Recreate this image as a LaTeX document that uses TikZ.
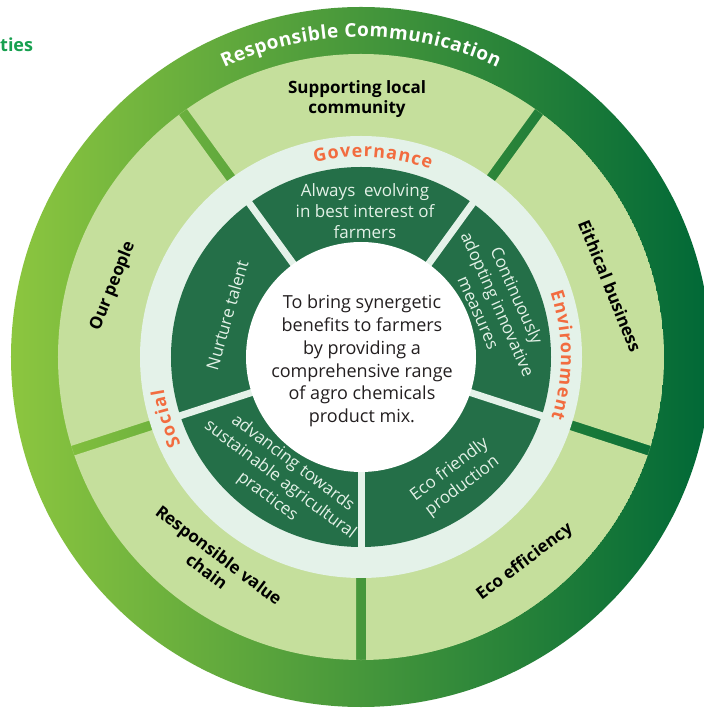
\documentclass[tikz,border=0pt]{standalone}
\usepackage{fontspec}
\setmainfont{Open Sans}
\usetikzlibrary{calc}
\definecolor{ringL}{HTML}{8CC63F}
\definecolor{ringR}{HTML}{006837}
\definecolor{lgreen}{HTML}{C5DF9C}
\definecolor{mint}{HTML}{E4F2E9}
\definecolor{dgreen}{HTML}{246F48}
\definecolor{orng}{HTML}{F26C3F}
\definecolor{inwhite}{HTML}{E3F1E7}
\definecolor{ctext}{HTML}{231F20}
\definecolor{tgreen}{HTML}{17A04F}
\newdimen\cvtot
\newdimen\cvpos
\newbox\cvbox
% #1 radius, #2 centre angle, #3 font commands, #4 extra tracking (pt), #5 comma list of characters
\newcommand\curvetext[5]{%
  \global\cvtot=0pt
  \foreach \cvc in {#5}{%
    \pgfinterruptpicture\global\setbox\cvbox=\hbox{#3\cvc}\endpgfinterruptpicture
    \global\advance\cvtot by \wd\cvbox \global\advance\cvtot by #4pt}%
  \global\advance\cvtot by -#4pt
  \global\cvpos=0pt
  \foreach \cvc in {#5}{%
    \pgfinterruptpicture\global\setbox\cvbox=\hbox{#3\cvc}\endpgfinterruptpicture
    \edef\cvw{\the\wd\cvbox}\edef\cvt{\the\cvtot}\edef\cvp{\the\cvpos}%
    \pgfmathsetmacro\cvang{#2 + (\cvt/2 - \cvp - \cvw/2)/#1*180/pi}%
    \node[anchor=base, inner sep=0pt, rotate=\cvang-90] at (\cvang:#1) {#3\cvc};
    \global\advance\cvpos by \wd\cvbox \global\advance\cvpos by #4pt}%
}
\begin{document}
\begin{tikzpicture}[x=1pt,y=1pt,
  outerlbl/.style={font=\fontsize{17}{20}\selectfont\bfseries, text=black, align=center, inner sep=0pt},
  innerlbl/.style={font=\fontsize{17}{21}\selectfont, text=inwhite, align=center, inner sep=0pt},
  centerlbl/.style={font=\fontsize{18}{22.8}\selectfont, text=ctext, align=center, inner sep=0pt}
]
\useasboundingbox (-361,-351) rectangle (342,357);
\fill[white] (-361,-351) rectangle (342,357);
% outer gradient ring
\shade[left color=ringL, right color=ringR] (0,0) circle (350);
% light green sectors with gaps
\begin{scope}
  \clip (0,0) circle (303);
  \fill[lgreen, even odd rule] (0,0) circle (303)
    \foreach \a in {54,126,198,270,342} {
      ($(\a:170)+(\a+90:5)$) -- ($(\a:330)+(\a+90:5)$) --
      ($(\a:330)+(\a-90:5)$) -- ($(\a:170)+(\a-90:5)$) -- cycle };
\end{scope}
% mint ring
\fill[mint] (0,0) circle (221);
% dark green sectors
\fill[dgreen] (0,0) circle (190);
\foreach \a in {54,126,198,270,342} {
  \draw[mint, line width=7pt] (\a:100) -- (\a:195);
}
% white centre
\fill[white] (0,0) circle (115);

% curved titles
\curvetext{320}{90}{\bfseries\fontsize{19}{19}\selectfont\color{white}}{0.5}{R,e,s,p,o,n,s,i,b,l,e,\ ,C,o,m,m,u,n,i,c,a,t,i,o,n}
\curvetext{200}{86.6}{\bfseries\fontsize{18}{18}\selectfont\color{orng}}{1.1}{G,o,v,e,r,n,a,n,c,e}
\curvetext{200}{0.5}{\bfseries\fontsize{18}{18}\selectfont\color{orng}}{1.1}{E,n,v,i,r,o,n,m,e,n,t}
\curvetext{200}{197.6}{\bfseries\fontsize{18}{18}\selectfont\color{orng}}{1.1}{S,o,c,i,a,l}

% outer labels
\node[outerlbl] (sup) at (-4,258) {Supporting local\\community};
\node[outerlbl, rotate=-68] (eth) at (249,71) {Eithical business};
\node[outerlbl, rotate=68] (our) at (-248,71) {Our people};
\node[outerlbl, rotate=-37] (rvc) at (-148,-206) {Responsible value\\chain};
\node[outerlbl, rotate=37] (eef) at (164,-205) {Eco efficiency};

% inner labels
\node[innerlbl] (alw) at (4,146) {Always\ \ evolving\\in best interest of\\farmers};
\node[innerlbl, rotate=74] (nur) at (-134,42) {Nurture talent};
\node[innerlbl, rotate=-66] (con) at (137,53) {Continuously\\adopting innovative\\measures};
\node[innerlbl, rotate=37] (efp) at (95,-121) {Eco friendly\\production};
\node[innerlbl, rotate=-37] (adv) at (-81,-123) {advancing towards\\sustainable agricultural\\practices};

% centre
\node[centerlbl] (mis) at (1,-4) {To bring synergetic\\benefits to farmers\\by providing a\\comprehensive range\\of agro chemicals\\product mix.};

% cropped heading
\node[font=\fontsize{18}{18}\selectfont\bfseries, text=tgreen, anchor=base west, inner sep=0pt] (ties) at (-361,305) {ties};
\end{tikzpicture}
\end{document}
